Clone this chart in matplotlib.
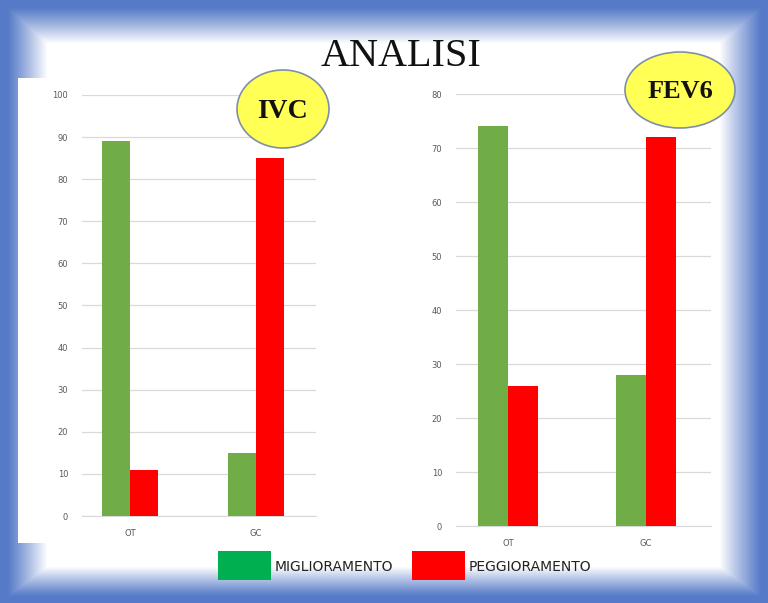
import numpy as np
import matplotlib
matplotlib.use("Agg")
import matplotlib.pyplot as plt
from matplotlib.patches import Ellipse, Rectangle

# data
categories = ["OT", "GC"]
ivc_miglioramento = [89, 15]
ivc_peggioramento = [11, 85]
fev6_miglioramento = [74, 28]
fev6_peggioramento = [26, 72]
legend_labels = ["MIGLIORAMENTO", "PEGGIORAMENTO"]

BAR_GREEN = "#70AD47"
BAR_RED = "#FF0000"
LEG_GREEN = "#00B050"
GRID = "#D9D9D9"
TICK = "#595959"
W, H = 768, 603


def frame_background(fig):
    """Blue bevel frame fading into white."""
    bg = fig.add_axes([0, 0, 1, 1], zorder=-10)
    yy, xx = np.mgrid[0:H, 0:W].astype(float)
    solid = 7
    t = np.minimum.reduce([(xx - solid) / 40, (W - xx - solid) / 42,
                           (yy - solid) / 36, (H - yy - solid) / 30])
    t = np.clip(t, 0, 1) ** 1.1
    blue = np.array([86, 122, 200]) / 255
    img = blue[None, None, :] * (1 - t[..., None]) + t[..., None]
    bg.imshow(img, extent=(0, W, H, 0), aspect="auto", interpolation="bilinear")
    bg.add_patch(Rectangle((18, 78), 40, 465, color="white", lw=0))
    bg.set_xlim(0, W)
    bg.set_ylim(H, 0)
    bg.axis("off")
    return bg


def bar_panel(fig, rect, green, red, ymax, xlim):
    ax = fig.add_axes(rect)
    x = np.arange(len(categories))
    w = 0.22
    ax.bar(x - w / 2, green, w, color=BAR_GREEN, zorder=3)
    ax.bar(x + w / 2, red, w, color=BAR_RED, zorder=3)
    ax.set_ylim(0, ymax)
    ax.set_xlim(*xlim)
    ax.set_yticks(np.arange(0, ymax + 1, 10))
    ax.set_xticks(x)
    ax.set_xticklabels(categories)
    ax.yaxis.grid(True, color=GRID, lw=0.9, zorder=0)
    for s in ["top", "right", "left"]:
        ax.spines[s].set_visible(False)
    ax.spines["bottom"].set_color(GRID)
    ax.tick_params(length=0, labelsize=6, colors=TICK, pad=10)
    ax.tick_params(axis="x", pad=9)
    ax.set_facecolor("none")
    return ax


def badge(ov, cx, cy, w, h, label, size):
    ov.add_patch(Ellipse((cx, cy), w, h, facecolor="#FFFF55",
                         edgecolor="#7F8FA6", lw=1.2, zorder=5))
    ov.text(cx, cy + 2, label, ha="center", va="center", fontsize=size,
            fontweight="bold", family="Liberation Serif", color="#111111",
            zorder=6)


fig = plt.figure(figsize=(W / 100, H / 100), dpi=100)
bg = frame_background(fig)

bar_panel(fig, [82 / W, 1 - 516 / H, 234 / W, 421 / H],
          ivc_miglioramento, ivc_peggioramento, 100, (-0.38, 1.476))
bar_panel(fig, [456 / W, 1 - 526 / H, 255 / W, 432 / H],
          fev6_miglioramento, fev6_peggioramento, 80, (-0.377, 1.47))

# overlay for title, badges and legend
ov = fig.add_axes([0, 0, 1, 1], zorder=10)
ov.set_xlim(0, W)
ov.set_ylim(H, 0)
ov.axis("off")
ov.text(401, 57, "ANALISI", ha="center", va="center", fontsize=29,
        family="Liberation Serif", color="#111111")
badge(ov, 283, 109, 92, 78, "IVC", 20)
badge(ov, 680, 90, 110, 76, "FEV6", 19)

for x0, col, lab in [(218, LEG_GREEN, legend_labels[0]), (412, BAR_RED, legend_labels[1])]:
    ov.add_patch(Rectangle((x0, 551), 53, 29, color=col, lw=0))
    ov.text(x0 + 57, 567, lab, ha="left", va="center", fontsize=10,
            family="DejaVu Sans", color="#222222")

fig.savefig("out.png", dpi=100)
